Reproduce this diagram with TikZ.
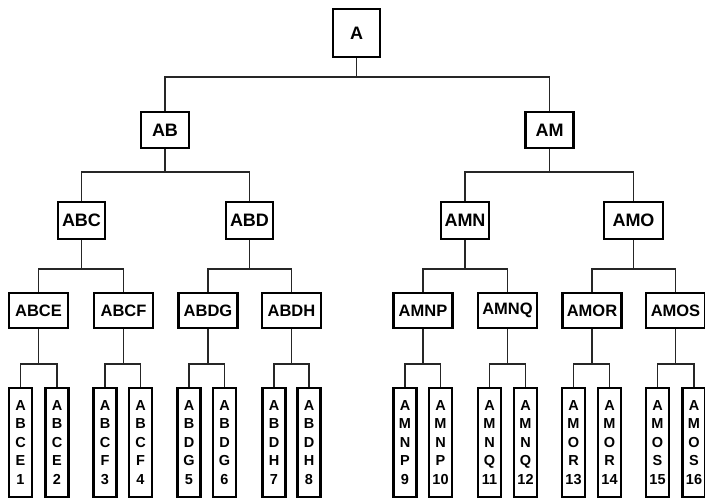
\documentclass[tikz,border=0pt]{standalone}
\usepackage{fontspec}
\setmainfont{Liberation Sans}
\begin{document}
\begin{tikzpicture}[x=1pt,y=-1pt,
  box/.style={draw=black, line width=2.6pt, fill=white, inner sep=0pt, font=\fontsize{18}{20}\selectfont\bfseries},
  b0/.style={box, minimum width=47pt, minimum height=48pt},
  b1/.style={box, minimum width=48pt, minimum height=36pt},
  b2/.style={box, minimum width=47pt, minimum height=37pt},
  b3/.style={box, minimum width=59pt, minimum height=35pt, font=\fontsize{16.5}{18}\selectfont\bfseries},
  leaf/.style={box, minimum width=23pt, minimum height=109pt, align=center, font=\fontsize{14.5}{18.5}\selectfont\bfseries},
  conn/.style={draw=black!85, line width=1.3pt}]
\useasboundingbox (0,0) rectangle (705,501);
% bus levels
\coordinate (y1) at (0,77);
\coordinate (y2) at (0,172);
\coordinate (y3) at (0,269);
\coordinate (y4) at (0,364);
% level 0-2
\node[b0] (A) at (356.5,33) {A};
\node[b1] (AB) at (165,130) {AB};
\node[b1] (AM) at (549.5,130) {AM};
\node[b2] (ABC) at (81.5,220.5) {ABC};
\node[b2] (ABD) at (249.5,220.5) {ABD};
\node[b2, minimum width=48pt] (AMN) at (465,220.5) {AMN};
\node[b2, minimum width=59pt] (AMO) at (633.5,220.5) {AMO};
% level 3
\node[b3] (ABCE) at (38.5,310.5) {ABCE};
\node[b3] (ABCF) at (123.5,310.5) {ABCF};
\node[b3] (ABDG) at (208,310.5) {ABDG};
\node[b3] (ABDH) at (291.5,310.5) {ABDH};
\node[b3] (AMNP) at (423,310.5) {AMNP};
\node[b3] (AMNQ) at (507.5,310.5) {AMNQ};
\node[b3] (AMOR) at (592,310.5) {AMOR};
\node[b3] (AMOS) at (675.5,310.5) {AMOS};
% leaves
\node[leaf] (L1) at (20.5,442.5) {A\\B\\C\\E\\1};
\node[leaf] (L2) at (57,442.5) {A\\B\\C\\E\\2};
\node[leaf] (L3) at (105,442.5) {A\\B\\C\\F\\3};
\node[leaf] (L4) at (140.5,442.5) {A\\B\\C\\F\\4};
\node[leaf] (L5) at (189,442.5) {A\\B\\D\\G\\5};
\node[leaf] (L6) at (224.5,442.5) {A\\B\\D\\G\\6};
\node[leaf] (L7) at (274,442.5) {A\\B\\D\\H\\7};
\node[leaf] (L8) at (309,442.5) {A\\B\\D\\H\\8};
\node[leaf] (L9) at (405,442.5) {A\\M\\N\\P\\9};
\node[leaf] (L10) at (440.5,442.5) {A\\M\\N\\P\\10};
\node[leaf] (L11) at (489.5,442.5) {A\\M\\N\\Q\\11};
\node[leaf] (L12) at (525.5,442.5) {A\\M\\N\\Q\\12};
\node[leaf] (L13) at (573.5,442.5) {A\\M\\O\\R\\13};
\node[leaf] (L14) at (609.5,442.5) {A\\M\\O\\R\\14};
\node[leaf] (L15) at (657.5,442.5) {A\\M\\O\\S\\15};
\node[leaf] (L16) at (694,442.5) {A\\M\\O\\S\\16};
% connectors
\foreach \p/\a/\b/\y in {A/AB/AM/y1, AB/ABC/ABD/y2, AM/AMN/AMO/y2,
  ABC/ABCE/ABCF/y3, ABD/ABDG/ABDH/y3, AMN/AMNP/AMNQ/y3, AMO/AMOR/AMOS/y3,
  ABCE/L1/L2/y4, ABCF/L3/L4/y4, ABDG/L5/L6/y4, ABDH/L7/L8/y4,
  AMNP/L9/L10/y4, AMNQ/L11/L12/y4, AMOR/L13/L14/y4, AMOS/L15/L16/y4}{
  \draw[conn] (\p.south) -- (\p.south |- \y);
  \draw[conn] (\a.north) |- (\b.north |- \y) -- (\b.north);
}
\end{tikzpicture}
\end{document}
